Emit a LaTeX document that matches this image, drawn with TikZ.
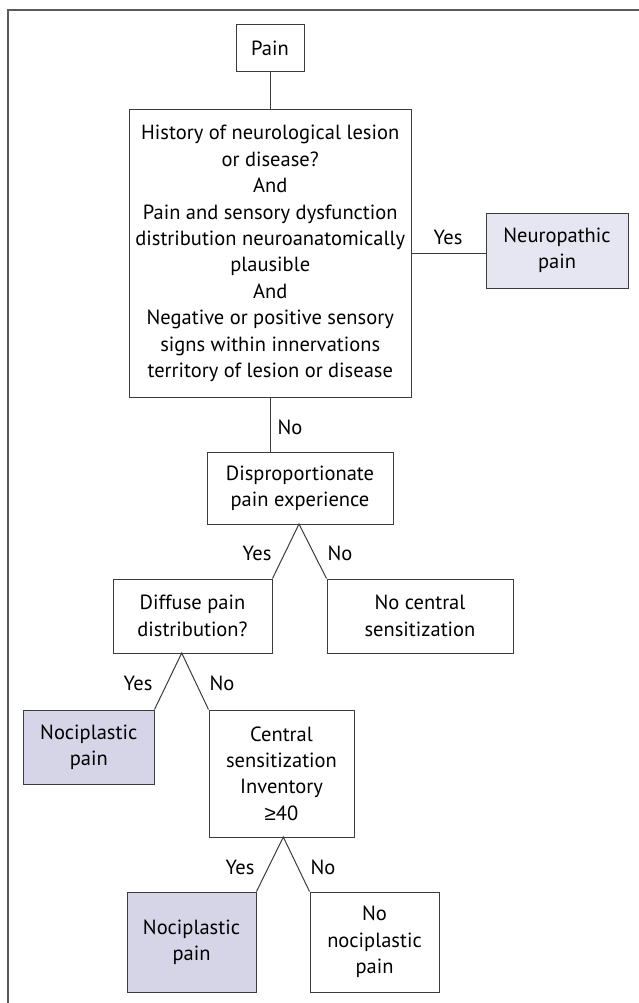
\documentclass[tikz,border=0pt]{standalone}
\usepackage{fontspec}
\setmainfont{PT Sans}
\newfontfamily\symfont{Liberation Sans}
\definecolor{linec}{HTML}{3C3C3C}
\definecolor{framec}{HTML}{5A5A5A}
\definecolor{neurofill}{HTML}{E6E6F2}
\definecolor{nocifill}{HTML}{D5D5E7}
\newcommand\dfont{\fontsize{20.5}{26.4}\selectfont}
\begin{document}
\begin{tikzpicture}[x=1pt,y=-1pt,
  box/.style={draw=linec, line width=1pt, inner sep=0pt, align=center, font=\dfont, text=black, fill=white},
  neuro/.style={box, fill=neurofill},
  noci/.style={box, fill=nocifill},
  conn/.style={draw=linec, line width=1pt},
  lbl/.style={font=\dfont, inner sep=0pt, text=black}]
\useasboundingbox (0,0) rectangle (639,1003);
\draw[framec, line width=1.4pt] (639,10) -- (8,10) -- (8,1003);

\node[box, minimum width=68pt, minimum height=47pt] (pain) at (270,48.5) {Pain};
\node[box, minimum width=281.5pt, minimum height=287pt] (big) at (270.25,253.5)
  {History of neurological lesion\\or disease?\\And\\Pain and sensory dysfunction\\distribution neuroanatomically\\plausible\\And\\Negative or positive sensory\\signs within innervations\\territory of lesion or disease};
\node[neuro, minimum width=142pt, minimum height=75pt] (neuro) at (557,250.5) {Neuropathic\\pain};
\node[box, minimum width=186pt, minimum height=72pt] (disp) at (300,488) {Disproportionate\\pain experience};
\node[box, minimum width=159pt, minimum height=74pt] (diff) at (192.5,616) {Diffuse pain\\distribution?};
\node[box, minimum width=186pt, minimum height=74pt] (nocs) at (420,616) {No central\\sensitization};
\node[noci, minimum width=130.5pt, minimum height=74pt] (noci1) at (88.75,747) {Nociplastic\\pain};
\node[box, minimum width=145pt, minimum height=127pt] (csi) at (281.5,773.5) {Central\\sensitization\\Inventory\\{\symfont ≥}40};
\node[noci, minimum width=129pt, minimum height=100pt] (noci2) at (191.5,942) {Nociplastic\\pain};
\node[box, minimum width=129pt, minimum height=100pt] (nonoci) at (374.5,942) {No\\nociplastic\\pain};

\coordinate (a1) at (299,524);
\coordinate (a2) at (181.7,653);
\coordinate (a3) at (283.3,837);

\draw[conn] (pain.south) -- (pain.south |- big.north);
\draw[conn] (big.east) -- (big.east -| neuro.west);
\draw[conn] (big.south) -- (big.south |- disp.north);
\draw[conn] (diff.north east) -- (a1) -- (nocs.north west);
\draw[conn] (noci1.north east) -- (a2) -- (csi.north west);
\draw[conn] (noci2.north east) -- (a3) -- (nonoci.north west);

\node[lbl] (l1) at (448,237) {Yes};
\node[lbl] (l2) at (290,427) {No};
\node[lbl] (l3) at (257,553) {Yes};
\node[lbl] (l4) at (340,553) {No};
\node[lbl] (l5) at (138,683) {Yes};
\node[lbl] (l6) at (222,683) {No};
\node[lbl] (l7) at (240,867) {Yes};
\node[lbl] (l8) at (323,867) {No};
\end{tikzpicture}
\end{document}
